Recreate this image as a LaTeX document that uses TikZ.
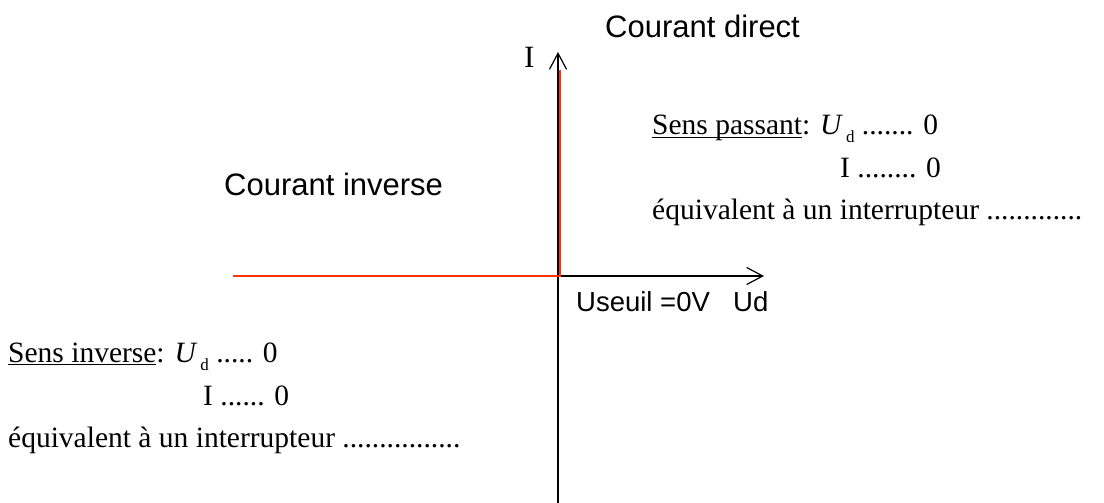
\documentclass[tikz,border=0pt]{standalone}
\usepackage{fontspec}
\setmainfont{Liberation Serif}
\setsansfont{Liberation Sans}
\usetikzlibrary{arrows.meta}
\definecolor{DiodeRed}{HTML}{FF3300}
\newsavebox{\ulbox}
\newcommand{\souligne}[1]{\sbox{\ulbox}{#1}\rlap{\rule[-3pt]{\wd\ulbox}{1.4pt}}\usebox{\ulbox}}
\newcommand{\Ud}{\textit{U}\kern3pt\raisebox{-8pt}{\fontsize{17}{17}\selectfont d}}

\begin{document}
\begin{tikzpicture}[x=1pt,y=-1pt,
  axis/.style={draw=black,line width=1.6pt,-{Straight Barb[length=16pt,width=17pt,line width=1.2pt]}},
  curve/.style={draw=DiodeRed,line width=2pt},
  axislabel/.style={font=\sffamily\fontsize{31}{36}\selectfont,inner sep=0pt,anchor=base west},
  smalllabel/.style={font=\sffamily\fontsize{27.5}{32}\selectfont,inner sep=0pt,anchor=base west},
  answer/.style={font=\fontsize{29.5}{34}\selectfont,inner sep=0pt,anchor=base west}]
  \useasboundingbox (0,0) rectangle (1104,503);
  \coordinate (O) at (558,276);
  \coordinate (Ibot) at (558,503);
  \coordinate (Itop) at (558,52);
  \coordinate (Uend) at (764,276);
  \coordinate (Oc) at (560,276);
  \coordinate (Rleft) at (233,276);
  \coordinate (Rtop) at (560,70);
  \draw[axis] (Ibot) -- (Itop);
  \draw[axis] (O) -- (Uend);
  \draw[curve] (Rleft) -- (Oc) -- (Rtop);
  \node[answer,font=\fontsize{31}{36}\selectfont] (ilabel) at (524,68) {I};
  \node[axislabel] (direct) at (605,38) {Courant direct};
  \node[axislabel] (inverse) at (224,195) {Courant inverse};
  \node[smalllabel] (seuil) at (576,311) {Useuil =0V};
  \node[smalllabel] (ud) at (733,311) {Ud};
  \node[answer] (passant) at (652,135) {\souligne{Sens passant}: \Ud\ ....... 0};
  \node[answer] (ipassant) at (840,177) {I ........ 0};
  \node[answer] (opassant) at (652,219) {équivalent à un interrupteur .............};
  \node[answer] (bloque) at (8,362) {\souligne{Sens inverse}: \Ud\ ..... 0};
  \node[answer] (ibloque) at (203,405) {I ...... 0};
  \node[answer] (obloque) at (8,447) {équivalent à un interrupteur ................};
\end{tikzpicture}
\end{document}
